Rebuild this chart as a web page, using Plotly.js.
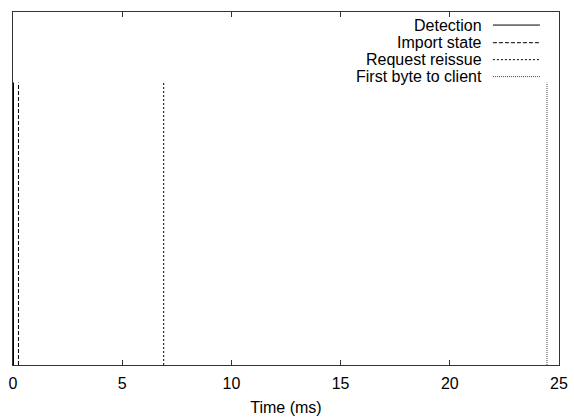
<!DOCTYPE html>
<html>
<head>
<meta charset="utf-8">
<script src="https://cdn.plot.ly/plotly-3.0.1.min.js"></script>
<style>html,body{margin:0;padding:0;background:#fff;}#chart{width:574px;height:418px;}</style>
</head>
<body>
<div id="chart"></div>
<script>
// Data
var seriesNames = ["Detection", "Import state", "Request reissue", "First byte to client"];
var eventTimes = [0, 0.25, 6.9, 24.45];   // ms
var eventHeights = [1, 1, 1, 1];
var xTicks = [0, 5, 10, 15, 20, 25];

// Styles
var dashes = ["solid", "4px,2px", "2px,2px", "1px,1px"];
var widths = [2, 1, 1, 1];
var colors = ["#000", "#000", "#000", "#444"];

var FONT = "Liberation Sans, Arial, Helvetica, sans-serif";

var traces = seriesNames.map(function (name, i) {
  return {
    type: "scatter", mode: "lines", name: name,
    x: [eventTimes[i], eventTimes[i]],
    y: [0, eventHeights[i]],
    line: {color: colors[i], width: widths[i], dash: dashes[i]},
    showlegend: false, hoverinfo: "skip"
  };
});

// gnuplot-style key: text right, sample line to the right
var legendY = [0.963, 0.913, 0.865, 0.817];
var annotations = [], shapes = [];
seriesNames.forEach(function (name, i) {
  annotations.push({
    xref: "paper", yref: "paper", x: 0.863, y: legendY[i],
    xanchor: "right", yanchor: "middle", showarrow: false,
    text: name, font: {family: FONT, size: 16, color: "#000"}
  });
  shapes.push({
    type: "line", xref: "paper", yref: "paper",
    x0: 0.879, x1: 0.965, y0: legendY[i], y1: legendY[i],
    line: {color: colors[i], width: 1, dash: dashes[i]}
  });
});

var layout = {
  width: 574, height: 418,
  margin: {l: 13, r: 15, t: 12, b: 53},
  paper_bgcolor: "#fff", plot_bgcolor: "#fff",
  font: {family: FONT, size: 16, color: "#000"},
  xaxis: {
    range: [0, 25], tickvals: xTicks, ticktext: xTicks.map(String),
    ticks: "inside", ticklen: 5, tickcolor: "#333", tickwidth: 1,
    ticklabelstandoff: 4,
    showline: true, linecolor: "#333", linewidth: 1, mirror: "ticks",
    showgrid: false, zeroline: false,
    tickfont: {family: FONT, size: 16, color: "#000"},
    title: {text: "Time (ms)", font: {family: FONT, size: 16, color: "#000"}, standoff: 10}
  },
  yaxis: {
    range: [0, 1.25], showticklabels: false, ticks: "",
    showline: true, linecolor: "#333", linewidth: 1, mirror: true,
    showgrid: false, zeroline: false
  },
  annotations: annotations,
  shapes: shapes,
  showlegend: false
};

Plotly.newPlot("chart", traces, layout, {staticPlot: true, displayModeBar: false});
</script>
</body>
</html>
